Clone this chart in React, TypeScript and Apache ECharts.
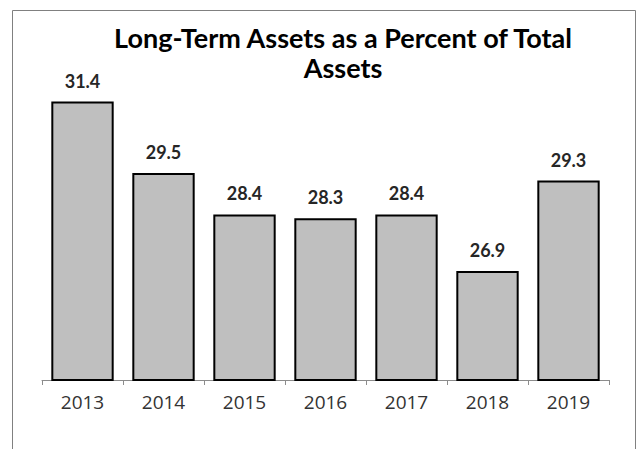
import React, { useEffect, useRef } from "react";
import * as echarts from "echarts";

const categories = ["2013", "2014", "2015", "2016", "2017", "2018", "2019"];
const values = [31.4, 29.5, 28.4, 28.3, 28.4, 26.9, 29.3];
const titleText = "Long-Term Assets as a Percent of Total\nAssets";

export default function App() {
  const ref = useRef<HTMLDivElement>(null);
  useEffect(() => {
    document.body.style.margin = "0";
    const chart = echarts.init(ref.current!, null, { renderer: "svg" });
    chart.setOption({
      animation: false,
      backgroundColor: "#ffffff",
      title: {
        text: titleText,
        left: 338,
        top: 17,
        textAlign: "center",
        textStyle: {
          fontFamily: "Lato",
          fontWeight: "bold",
          fontSize: 27,
          lineHeight: 30,
          color: "#000000",
        },
      },
      graphic: [
        {
          type: "rect",
          shape: { x: 12.5, y: 10.5, width: 623, height: 470 },
          style: { fill: "none", stroke: "#808080", lineWidth: 1 },
          silent: true,
        },
      ],
      grid: { left: 42, right: 28, top: 79, bottom: 69 },
      xAxis: {
        type: "category",
        data: categories,
        axisLine: { show: true, lineStyle: { color: "#8c8c8c", width: 1 } },
        axisTick: { show: true, length: 5, lineStyle: { color: "#8c8c8c" } },
        axisLabel: {
          color: "#333333",
          fontFamily: "Open Sans",
          fontSize: 19,
          margin: 12,
        },
      },
      yAxis: {
        type: "value",
        min: 24,
        max: 32,
        show: false,
        splitLine: { show: false },
      },
      series: [
        {
          type: "bar",
          data: values,
          barCategoryGap: "23%",
          itemStyle: {
            color: "#bfbfbf",
            borderColor: "#000000",
            borderWidth: 2,
          },
          label: {
            show: true,
            position: "top",
            distance: 12,
            fontFamily: "Lato",
            fontWeight: "bold",
            fontSize: 18,
            color: "#262626",
            formatter: (p: any) => p.value.toFixed(1),
          },
        },
      ],
    });
    return () => chart.dispose();
  }, []);
  return (
    <div
      ref={ref}
      style={{ position: "absolute", left: 0, top: 0, width: 637, height: 449 }}
    />
  );
}
